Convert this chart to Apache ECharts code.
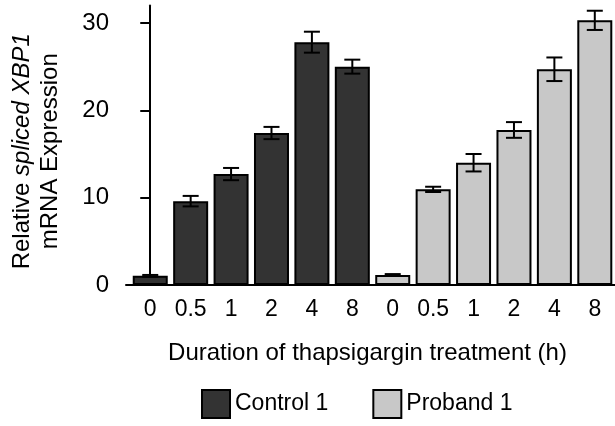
<!DOCTYPE html>
<html>
<head>
<meta charset="utf-8">
<script src="https://cdn.jsdelivr.net/npm/echarts@6/dist/echarts.min.js"></script>
<style>
  html, body { margin: 0; padding: 0; background: #fff; }
  #chart { width: 615px; height: 426px; }
</style>
</head>
<body>
<div id="chart"></div>
<script>
// thapsigargin time points (h), same for both groups
var timeLabels = ['0', '0.5', '1', '2', '4', '8'];
// relative spliced XBP1 mRNA, mean and error
var controlMean = [1.05, 9.6, 12.7, 17.4, 27.8, 25.0];
var controlErr = [0.1, 0.6, 0.7, 0.7, 1.2, 0.8];
var probandMean = [1.15, 10.95, 14.0, 17.75, 24.7, 30.3];
var probandErr = [0.1, 0.3, 1.0, 0.9, 1.35, 1.1];
var yTicks = [0, 10, 20, 30];

var FONT = '"Liberation Sans", Arial, sans-serif';
var chart = echarts.init(document.getElementById('chart'));

// bars sit at positions 0..11 on the x axis
var controlData = [], probandData = [], errData = [], xTicks = [], xNames = [];
controlMean.forEach(function (v, i) {
  controlData.push([i, v]);
  errData.push([i, v - controlErr[i], v + controlErr[i]]);
  xTicks.push(i);
  xNames.push(timeLabels[i]);
});
probandMean.forEach(function (v, i) {
  var x = i + timeLabels.length;
  probandData.push([x, v]);
  errData.push([x, v - probandErr[i], v + probandErr[i]]);
  xTicks.push(x);
  xNames.push(timeLabels[i]);
});

function renderErr(params, api) {
  var x = api.value(0);
  var lo = api.coord([x, api.value(1)]);
  var hi = api.coord([x, api.value(2)]);
  var w = 8;
  var style = { stroke: '#000', lineWidth: 2 };
  return {
    type: 'group',
    children: [
      { type: 'line', shape: { x1: lo[0], y1: lo[1], x2: hi[0], y2: hi[1] }, style: style },
      { type: 'line', shape: { x1: hi[0] - w, y1: hi[1], x2: hi[0] + w, y2: hi[1] }, style: style },
      { type: 'line', shape: { x1: lo[0] - w, y1: lo[1], x2: lo[0] + w, y2: lo[1] }, style: style }
    ]
  };
}

var option = {
  animation: false,
  textStyle: { fontFamily: FONT, color: '#000' },
  grid: { left: 125, right: 0, top: 5.5, bottom: 141 },
  legend: {
    data: ['Control 1', 'Proband 1'],
    top: 384,
    left: 196,
    itemWidth: 28,
    itemHeight: 28,
    itemGap: 44,
    icon: 'rect',
    textStyle: { fontFamily: FONT, fontSize: 23, color: '#000' }
  },
  xAxis: {
    type: 'value',
    min: -0.6,
    max: 11.5,
    splitLine: { show: false },
    axisLine: { show: true, lineStyle: { color: '#000', width: 2 } },
    axisTick: { show: false },
    axisLabel: {
      customValues: xTicks,
      margin: 13,
      fontSize: 23,
      color: '#000',
      fontFamily: FONT,
      formatter: function (v) { return xNames[Math.round(v)]; }
    },
    name: 'Duration of thapsigargin treatment (h)',
    nameLocation: 'middle',
    nameGap: 56,
    nameTextStyle: { fontSize: 24, color: '#000', fontFamily: FONT, padding: [0, 6, 0, 0] }
  },
  yAxis: {
    type: 'value',
    min: 0,
    max: 32,
    splitLine: { show: false },
    axisLine: { show: true, lineStyle: { color: '#000', width: 2 } },
    axisTick: { show: true, customValues: yTicks, length: 10, lineStyle: { color: '#000', width: 2 } },
    axisLabel: { customValues: yTicks, margin: 17, fontSize: 24, color: '#000', fontFamily: FONT },
    name: 'Relative {i|spliced XBP1}\nmRNA Expression',
    nameLocation: 'middle',
    nameRotate: 90,
    nameGap: 62,
    nameTextStyle: {
      fontSize: 24, lineHeight: 28, color: '#000', fontFamily: FONT, align: 'center',
      padding: [0, 12, 0, 0],
      rich: { i: { fontStyle: 'italic', fontSize: 24, fontFamily: FONT, color: '#000' } }
    }
  },
  series: [
    {
      name: 'Control 1',
      type: 'bar',
      barWidth: 35,
      barGap: '-100%',
      itemStyle: { color: '#333333', borderColor: '#000', borderWidth: 2 },
      data: controlData
    },
    {
      name: 'Proband 1',
      type: 'bar',
      barWidth: 35,
      barGap: '-100%',
      itemStyle: { color: '#c8c8c8', borderColor: '#000', borderWidth: 2 },
      data: probandData
    },
    {
      name: 'err',
      type: 'custom',
      renderItem: renderErr,
      encode: { x: 0, y: [1, 2] },
      z: 10,
      data: errData
    }
  ]
};
chart.setOption(option);
</script>
</body>
</html>
